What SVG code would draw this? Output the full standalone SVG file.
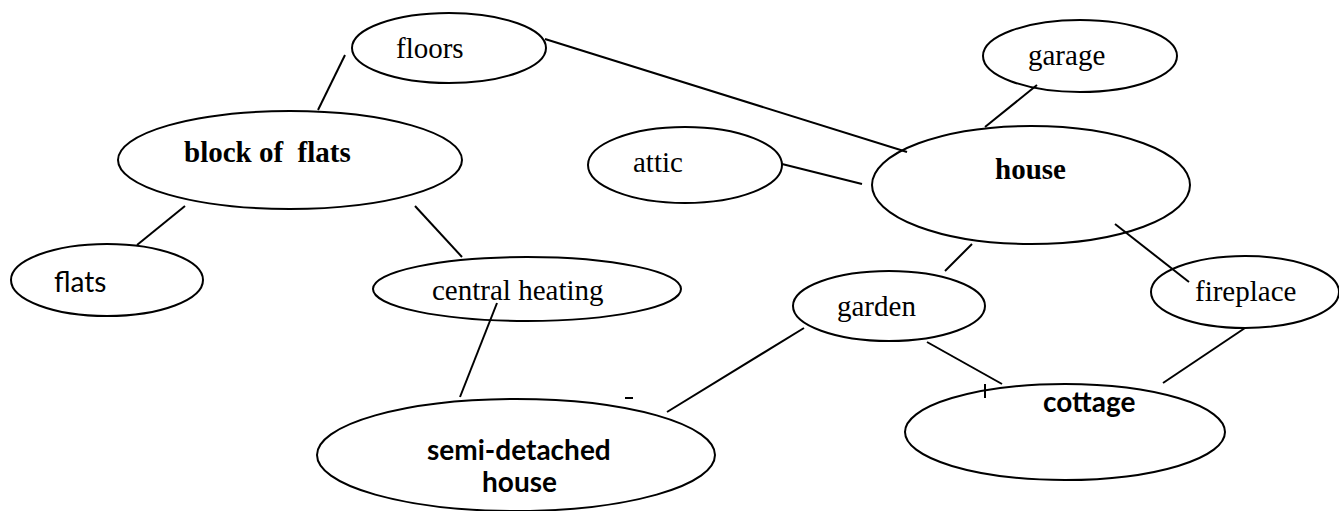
<svg xmlns="http://www.w3.org/2000/svg" width="1339" height="511" viewBox="0 0 1339 511">
<style>
.n ellipse{fill:#fff;stroke:#000;stroke-width:2}
.c line{stroke:#000;stroke-width:2;fill:none}
.s{font-family:"Liberation Serif","Times New Roman",serif;font-size:29px;fill:#000}
.sb{font-family:"Liberation Serif","Times New Roman",serif;font-size:29px;font-weight:bold;fill:#000}
.a{font-family:Lato,"Liberation Sans",sans-serif;font-size:28px;fill:#000}
.ab{font-family:Lato,"Liberation Sans",sans-serif;font-size:28px;font-weight:bold;fill:#000}
</style>
<rect width="1339" height="511" fill="#fff"/>
<g id="floors" class="n"><ellipse cx="449" cy="48" rx="97" ry="35"/><text class="s" x="396" y="58">floors</text></g>
<g id="garage" class="n"><ellipse cx="1080" cy="56" rx="97" ry="36"/><text class="s" x="1028" y="65">garage</text></g>
<g id="block" class="n"><ellipse cx="290" cy="160" rx="172" ry="49"/><text class="sb" x="184" y="162" xml:space="preserve">block of  flats</text></g>
<g id="attic" class="n"><ellipse cx="685" cy="165" rx="97" ry="38"/><text class="s" x="633" y="172">attic</text></g>
<g id="house" class="n"><ellipse cx="1031" cy="185" rx="159" ry="59"/><text class="sb" x="995" y="179">house</text></g>
<g id="flats" class="n"><ellipse cx="107" cy="280" rx="96" ry="36"/><text class="a" x="54" y="292">flats</text></g>
<g id="central" class="n"><ellipse cx="527" cy="289" rx="154" ry="32"/><text class="s" x="432" y="300">central heating</text></g>
<g id="garden" class="n"><ellipse cx="889" cy="306" rx="96" ry="35"/><text class="s" x="837" y="316">garden</text></g>
<g id="fireplace" class="n"><ellipse cx="1245" cy="292" rx="94" ry="36"/><text class="s" x="1195" y="301">fireplace</text></g>
<g id="semi" class="n"><ellipse cx="516" cy="455" rx="199" ry="56"/><text class="ab" x="427" y="460">semi-detached</text><text class="ab" x="482" y="492">house</text></g>
<g id="cottage" class="n"><ellipse cx="1065" cy="432" rx="160" ry="48"/><text class="ab" x="1043" y="412">cottage</text></g>
<g id="connectors" class="c">
<line x1="345" y1="55" x2="318" y2="110"/>
<line x1="545" y1="39" x2="907" y2="152"/>
<line x1="782" y1="164" x2="862" y2="184"/>
<line x1="1037" y1="85" x2="985" y2="127"/>
<line x1="185" y1="206" x2="137" y2="245"/>
<line x1="415" y1="206" x2="462" y2="257"/>
<line x1="497" y1="303" x2="460" y2="397"/>
<line x1="804" y1="328" x2="667" y2="412"/>
<line x1="945" y1="271" x2="972" y2="244"/>
<line x1="927" y1="342" x2="1002" y2="384"/>
<line x1="1115" y1="224" x2="1189" y2="282"/>
<line x1="1245" y1="328" x2="1163" y2="383"/>
<line x1="625" y1="398" x2="633" y2="398"/>
<line x1="985" y1="384" x2="985" y2="398"/>
</g>
</svg>
